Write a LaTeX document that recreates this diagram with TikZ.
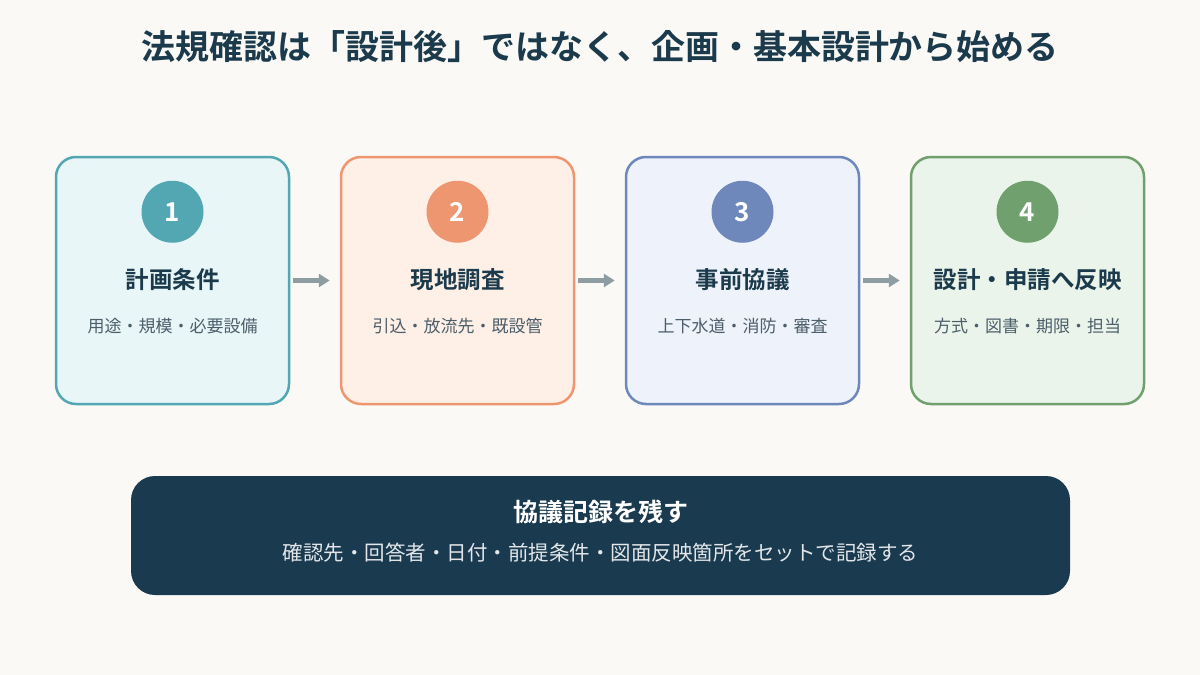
\documentclass[tikz,border=0pt]{standalone}
\usepackage{fontspec}
\setmainfont{Noto Sans CJK JP}[BoldFont={Noto Sans CJK JP Bold}]
\usetikzlibrary{positioning,arrows.meta}

\definecolor{paper}{HTML}{FAF9F6}
\definecolor{ink}{HTML}{1B3A4B}
\definecolor{subink}{HTML}{4C5E6A}
\definecolor{navy}{HTML}{1A3A4F}
\definecolor{flowgray}{HTML}{8D9DA2}
\definecolor{aqualine}{HTML}{52A7B3}
\definecolor{aquafill}{HTML}{E8F6F7}
\definecolor{corelline}{HTML}{EE9670}
\definecolor{corelfill}{HTML}{FEF0E7}
\definecolor{slateline}{HTML}{6E88BB}
\definecolor{slatefill}{HTML}{EEF2FB}
\definecolor{sageline}{HTML}{6FA06D}
\definecolor{sagefill}{HTML}{EAF4EA}

\tikzset{
  stepbox/.style={draw=#1line, fill=#1fill, line width=2.5pt, rounded corners=20pt,
    minimum width=233pt, minimum height=247pt},
  numdot/.style={circle, fill=#1line, text=white, minimum size=62pt, inner sep=0pt,
    font=\fontsize{26}{30}\selectfont\bfseries},
  steptitle/.style={text=ink, font=\fontsize{23.5}{28}\selectfont\bfseries},
  stepnote/.style={text=subink, font=\fontsize{17}{21}\selectfont},
  flow/.style={draw=flowgray, line width=5pt, -{Triangle[length=11pt,width=13pt]},
    shorten <=3pt, shorten >=10pt}
}

\begin{document}
\begin{tikzpicture}[x=1pt,y=-1pt]
        \fill[paper] (0,0) rectangle (1200,675);
        \useasboundingbox (0,0) rectangle (1200,675);

        \node[text=ink, font=\fontsize{34}{40}\selectfont\bfseries] (title) at (600,47)
          {法規確認は「設計後」ではなく、企画・基本設計から始める};

        \node[stepbox=aqua]  (step1) at (172.5,280.5) {};
        \node[stepbox=corel] (step2) at (457.5,280.5) {};
        \node[stepbox=slate] (step3) at (742.5,280.5) {};
        \node[stepbox=sage]  (step4) at (1027.5,280.5) {};

        \node[numdot=aqua]  (num1) at ([yshift=-56pt]step1.north) {1};
        \node[numdot=corel] (num2) at ([yshift=-56pt]step2.north) {2};
        \node[numdot=slate] (num3) at ([yshift=-56pt]step3.north) {3};
        \node[numdot=sage]  (num4) at ([yshift=-56pt]step4.north) {4};

        \node[steptitle] (head1) at ([yshift=-124pt]step1.north) {計画条件};
        \node[steptitle] (head2) at ([yshift=-124pt]step2.north) {現地調査};
        \node[steptitle] (head3) at ([yshift=-124pt]step3.north) {事前協議};
        \node[steptitle] (head4) at ([yshift=-124pt]step4.north) {設計・申請へ反映};

        \node[stepnote] (note1) at ([yshift=-170pt]step1.north) {用途・規模・必要設備};
        \node[stepnote] (note2) at ([yshift=-170pt]step2.north) {引込・放流先・既設管};
        \node[stepnote] (note3) at ([yshift=-170pt]step3.north) {上下水道・消防・審査};
        \node[stepnote] (note4) at ([yshift=-170pt]step4.north) {方式・図書・期限・担当};

        \draw[flow] (step1.east) -- (step2.west);
        \draw[flow] (step2.east) -- (step3.west);
        \draw[flow] (step3.east) -- (step4.west);

        % record box
        \node[fill=navy, rounded corners=24pt, minimum width=939pt, minimum height=119pt]
          (record) at (600.5,535.5) {};
        \node[text=white, font=\fontsize{25}{30}\selectfont\bfseries] (recordhead)
          at ([yshift=-36pt]record.north) {協議記録を残す};
        \node[text=white!88!navy, font=\fontsize{20.5}{25}\selectfont] (recordnote)
          at ([yshift=-77pt]record.north) {確認先・回答者・日付・前提条件・図面反映箇所をセットで記録する};
\end{tikzpicture}
\end{document}
